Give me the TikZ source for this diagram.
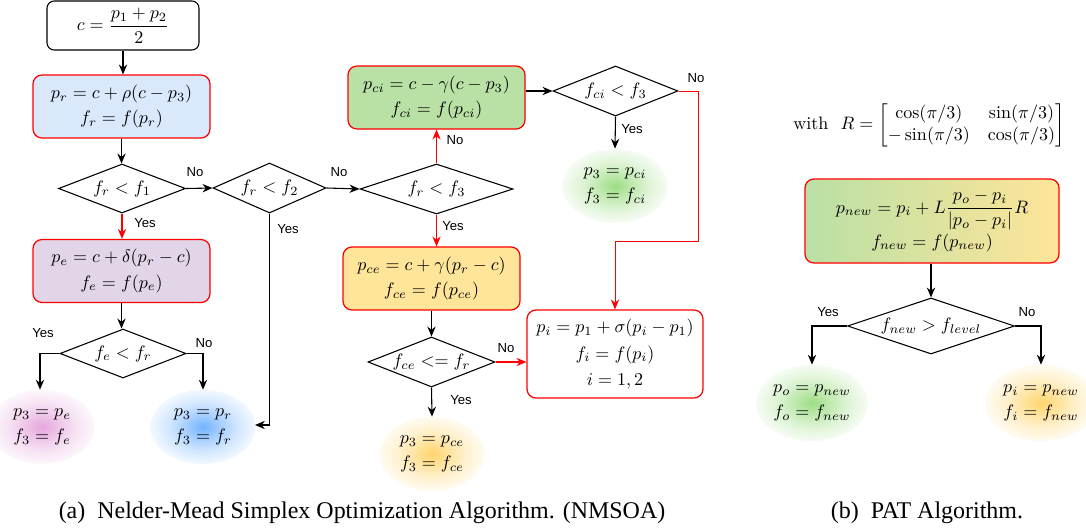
\documentclass[tikz,border=0pt]{standalone}
\usepackage{amsmath}
\usepackage{fontspec}
\newfontfamily\labfont{Liberation Sans}
\newfontfamily\capfont{Liberation Serif}
\usetikzlibrary{shapes.geometric,arrows.meta,calc}
\definecolor{rblue}{HTML}{DAE8FC}
\definecolor{rpurple}{HTML}{E1D5E7}
\definecolor{rgreen}{HTML}{B9E0A5}
\definecolor{rorange}{HTML}{FFE599}
\definecolor{bpink}{RGB}{225,150,215}
\definecolor{bblue}{RGB}{90,165,255}
\definecolor{bgreen}{RGB}{140,215,110}
\definecolor{borange}{RGB}{255,205,80}
\pgfdeclareradialshading{blobpink}{\pgfpointorigin}{color(0bp)=(bpink!85!white); color(8bp)=(bpink!55!white); color(16bp)=(bpink!28!white); color(24bp)=(bpink!10!white); color(32bp)=(white); color(50bp)=(white)}
\pgfdeclareradialshading{blobblue}{\pgfpointorigin}{color(0bp)=(bblue!85!white); color(8bp)=(bblue!55!white); color(16bp)=(bblue!28!white); color(24bp)=(bblue!10!white); color(32bp)=(white); color(50bp)=(white)}
\pgfdeclareradialshading{blobgreen}{\pgfpointorigin}{color(0bp)=(bgreen!85!white); color(8bp)=(bgreen!55!white); color(16bp)=(bgreen!28!white); color(24bp)=(bgreen!10!white); color(32bp)=(white); color(50bp)=(white)}
\pgfdeclareradialshading{bloborange}{\pgfpointorigin}{color(0bp)=(borange!85!white); color(8bp)=(borange!55!white); color(16bp)=(borange!28!white); color(24bp)=(borange!10!white); color(32bp)=(white); color(50bp)=(white)}
\def\PX{0.555pt}
\tikzset{
  conn/.style={line width=0.6pt, -{Stealth[length=5.5pt,width=4.6pt,inset=1.8pt]}},
  rconn/.style={conn, draw=red, line width=0.75pt},
  box/.style={draw=red, line width=0.7pt, rounded corners=5pt, align=center, inner sep=1pt},
  cbox/.style={draw=black, line width=0.6pt, rounded corners=4pt, align=center, inner sep=1pt},
  dia/.style={diamond, draw=black, line width=0.6pt, inner sep=0pt},
  leaf/.style={ellipse, shade, align=center, inner sep=0pt, minimum width=105*\PX, minimum height=74*\PX},
  lab/.style={font=\labfont\fontsize{7.3}{8}\selectfont, inner sep=0pt},
  captext/.style={font=\capfont\fontsize{13.3}{16}\selectfont, inner sep=0pt}
}
\begin{document}
\begin{tikzpicture}[x=0.555pt, y=-0.555pt]
\useasboundingbox (0,0) rectangle (1086,531);

% ---- (a) NMSOA ----
\node[cbox, minimum width=152*\PX, minimum height=49*\PX] (c) at (123,25.5) {$c = \dfrac{p_1+p_2}{2}$};
\node[box, fill=rblue, minimum width=177*\PX, minimum height=63*\PX] (pr) at (121.5,106.5) {$p_r = c + \rho(c - p_3)$\\[2pt]$f_r = f(p_r)$};
\node[dia, minimum width=127*\PX, minimum height=49*\PX] (d1) at (122,188.5) {\makebox[0pt]{$f_r < f_1$}};
\node[box, fill=rpurple, minimum width=177*\PX, minimum height=63*\PX] (pe) at (121.5,271) {$p_e = c + \delta(p_r - c)$\\[2pt]$f_e = f(p_e)$};
\node[dia, minimum width=126*\PX, minimum height=49*\PX] (d4) at (123,353.5) {\makebox[0pt]{$f_e < f_r$}};
\node[leaf, shading=blobpink] (leafE) at (42,427) {$p_3 = p_e$\\[2pt]$f_3 = f_e$};
\node[leaf, shading=blobblue] (leafR) at (203,427) {$p_3 = p_r$\\[2pt]$f_3 = f_r$};
\node[dia, minimum width=113*\PX, minimum height=50*\PX] (d2) at (269.5,188) {\makebox[0pt]{$f_r < f_2$}};
\coordinate (d2end) at (255,425);
\node[dia, minimum width=153*\PX, minimum height=50*\PX] (d3) at (436.5,189) {\makebox[0pt]{$f_r < f_3$}};
\node[box, fill=rgreen, minimum width=177*\PX, minimum height=63*\PX] (pci) at (436.5,97.5) {$p_{ci} = c - \gamma(c - p_3)$\\[2pt]$f_{ci} = f(p_{ci})$};
\node[dia, minimum width=125*\PX, minimum height=50*\PX] (d5) at (615.5,91) {\makebox[0pt]{$f_{ci} < f_3$}};
\node[leaf, shading=blobgreen] (leafCI) at (615,186) {$p_3 = p_{ci}$\\[2pt]$f_3 = f_{ci}$};
\node[box, fill=rorange, minimum width=177*\PX, minimum height=63*\PX] (pce) at (431.5,278.5) {$p_{ce} = c + \gamma(p_r - c)$\\[2pt]$f_{ce} = f(p_{ce})$};
\node[dia, minimum width=127*\PX, minimum height=50*\PX] (d6) at (431.5,362) {\makebox[0pt]{$f_{ce} <= f_r$}};
\node[leaf, shading=bloborange] (leafCE) at (432,454) {$p_3 = p_{ce}$\\[2pt]$f_3 = f_{ce}$};
\node[box, fill=white, minimum width=176*\PX, minimum height=88*\PX] (pi) at (615,354) {$p_i = p_1 + \sigma(p_i - p_1)$\\[2.5pt]$f_i = f(p_i)$\\[2.5pt]$i = 1,2$};
\coordinate (rt) at (698,241);

% connectors (a)
\draw[conn] (c.south) -- (c.south |- pr.north);
\draw[conn] (pr.south) -- (pr.south |- d1.north);
\draw[conn] (d1.east) -- (d2.west);
\draw[rconn] (d1.south) -- (d1.south |- pe.north);
\draw[conn] (pe.south) -- (pe.south |- d4.north);
\draw[conn] (d4.west) -| ([xshift=-2*\PX]leafE.north);
\draw[conn] (d4.east) -| (leafR.north);
\draw[conn] (d2.east) -- (d3.west);
\draw[conn] (d2.south) |- (d2end);
\draw[rconn] (d3.north) -- (d3.north |- pci.south);
\draw[rconn] (d3.south) -- (d3.south |- pce.north);
\draw[conn] (pci.east |- d5.west) -- (d5.west);
\draw[conn] (d5.south) -- (leafCI.north);
\draw[rconn, line width=0.5pt] (d5.east) -| (rt) -| (pi.north);
\draw[conn] (pce.south) -- (pce.south |- d6.north);
\draw[rconn] (d6.east) -- (d6.east -| pi.west);
\draw[conn] (d6.south) -- (leafCE.north);

% labels (a)
\node[lab] (l1) at (195,172) {No};
\node[lab] (l2) at (145,223) {Yes};
\node[lab] (l3) at (339,172) {No};
\node[lab] (l4) at (288,229) {Yes};
\node[lab] (l5) at (455,140) {No};
\node[lab] (l6) at (453,226) {Yes};
\node[lab] (l7) at (696,78) {No};
\node[lab] (l8) at (632,129) {Yes};
\node[lab] (l9) at (43,333) {Yes};
\node[lab] (l10) at (204,343) {No};
\node[lab] (l11) at (506,348) {No};
\node[lab] (l12) at (461,400) {Yes};

% ---- (b) PAT ----
\node[inner sep=0pt] (withR) at (929,125) {$\text{with}\ \ R = \begin{bmatrix}\cos(\pi/3) & \sin(\pi/3)\\ -\sin(\pi/3) & \cos(\pi/3)\end{bmatrix}$};
\node[box, left color=rgreen, right color=rorange, minimum width=254*\PX, minimum height=84*\PX] (pnew) at (932,221) {$\displaystyle p_{new} = p_i + L\frac{p_o - p_i}{|p_o - p_i|}R$\\[1pt]$f_{new} = f(p_{new})$};
\node[dia, minimum width=167*\PX, minimum height=56*\PX] (d7) at (931,326) {\makebox[0pt]{$f_{new} > f_{level}$}};
\node[leaf, shading=blobgreen, minimum width=112*\PX, minimum height=76*\PX] (leafO) at (812,403) {$p_o = p_{new}$\\[2pt]$f_o = f_{new}$};
\node[leaf, shading=bloborange, minimum width=112*\PX, minimum height=76*\PX] (leafI) at (1041,403) {$p_i = p_{new}$\\[2pt]$f_i = f_{new}$};
\draw[conn] (pnew.south -| d7.north) -- (d7.north);
\draw[conn] (d7.west) -| (leafO.north);
\draw[conn] (d7.east) -| (leafI.north);
\node[lab] (l13) at (828,312) {Yes};
\node[lab] (l14) at (1027,312) {No};

% captions
\node[captext] (capA) at (362,513) {(a)\hspace{0.5em}Nelder-Mead Simplex Optimization Algorithm. (NMSOA)};
\node[captext] (capB) at (927,513) {(b)\hspace{0.5em}PAT Algorithm.};
\end{tikzpicture}
\end{document}
